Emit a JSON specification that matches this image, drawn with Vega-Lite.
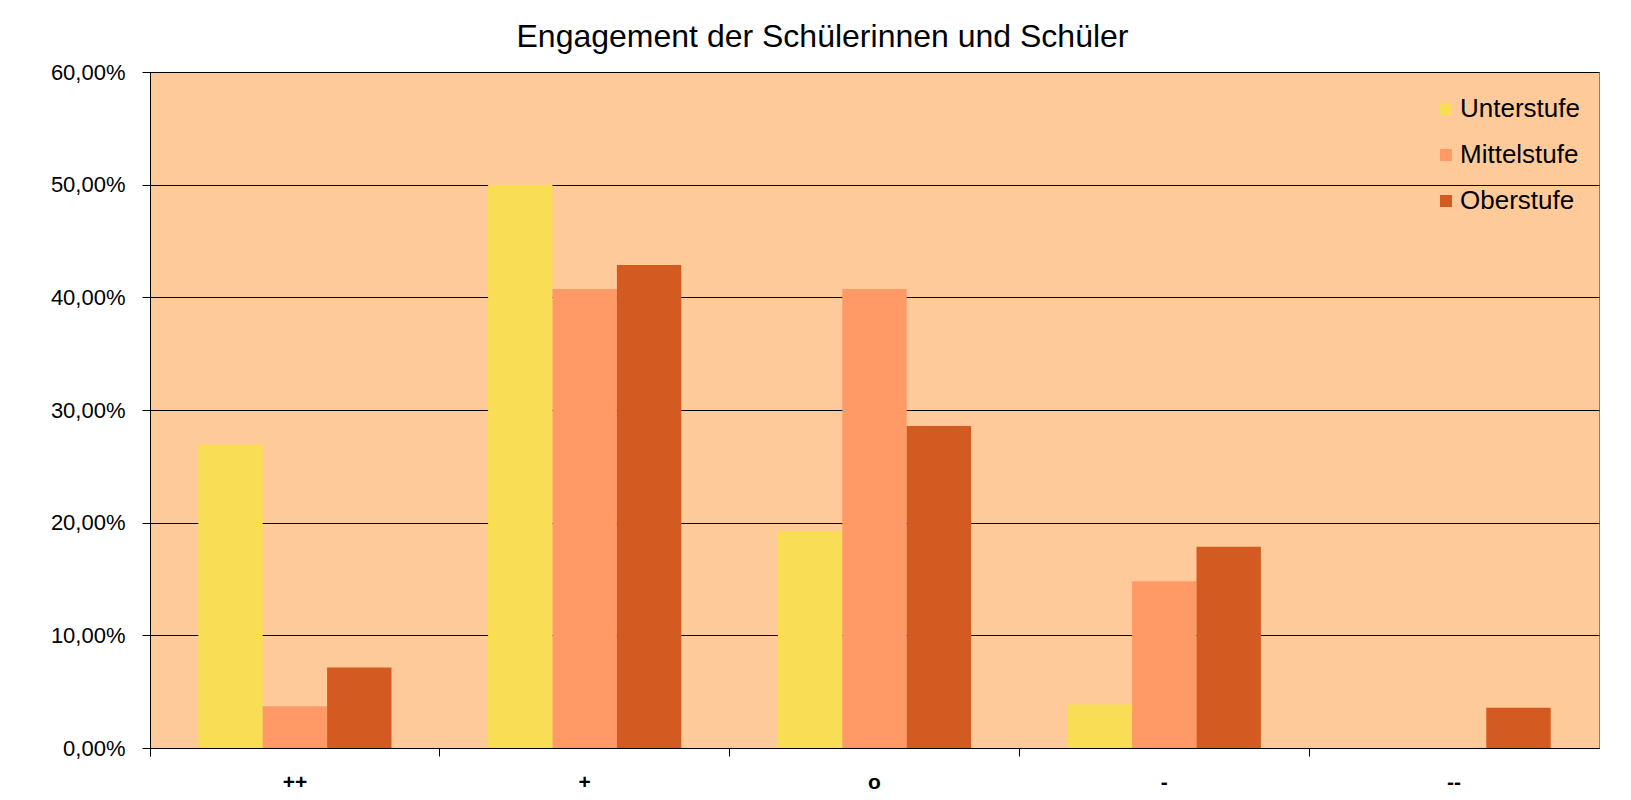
{
  "$schema": "https://vega.github.io/schema/vega-lite/v6.json",
  "autosize": {"type": "none"},
  "padding": {"left": 150, "top": 72, "right": 32, "bottom": 52},
  "width": 1449,
  "height": 676,
  "background": "white",
  "title": {
    "text": "Engagement der Schülerinnen und Schüler",
    "fontSize": 32,
    "fontWeight": "normal",
    "font": "Liberation Sans",
    "color": "black",
    "anchor": "middle",
    "dx": -52,
    "offset": 7
  },
  "data": {
    "values": [
      {"Kategorie": "++", "Stufe": "Unterstufe", "Anteil": 0.2692},
      {"Kategorie": "++", "Stufe": "Mittelstufe", "Anteil": 0.0370},
      {"Kategorie": "++", "Stufe": "Oberstufe", "Anteil": 0.0714},
      {"Kategorie": "+", "Stufe": "Unterstufe", "Anteil": 0.5000},
      {"Kategorie": "+", "Stufe": "Mittelstufe", "Anteil": 0.4074},
      {"Kategorie": "+", "Stufe": "Oberstufe", "Anteil": 0.4286},
      {"Kategorie": "o", "Stufe": "Unterstufe", "Anteil": 0.1923},
      {"Kategorie": "o", "Stufe": "Mittelstufe", "Anteil": 0.4074},
      {"Kategorie": "o", "Stufe": "Oberstufe", "Anteil": 0.2857},
      {"Kategorie": "-", "Stufe": "Unterstufe", "Anteil": 0.0385},
      {"Kategorie": "-", "Stufe": "Mittelstufe", "Anteil": 0.1481},
      {"Kategorie": "-", "Stufe": "Oberstufe", "Anteil": 0.1786},
      {"Kategorie": "--", "Stufe": "Unterstufe", "Anteil": 0.0},
      {"Kategorie": "--", "Stufe": "Mittelstufe", "Anteil": 0.0},
      {"Kategorie": "--", "Stufe": "Oberstufe", "Anteil": 0.0357}
    ]
  },
  "mark": {"type": "bar"},
  "encoding": {
    "x": {
      "field": "Kategorie",
      "type": "nominal",
      "sort": ["++", "+", "o", "-", "--"],
      "scale": {"paddingInner": 0, "paddingOuter": 0},
      "axis": {
        "title": null,
        "labelAngle": 0,
        "labelFontSize": 21,
        "labelFontWeight": "bold",
        "labelFont": "Liberation Sans",
        "labelColor": "black",
        "labelPadding": 15,
        "bandPosition": 0,
        "tickExtra": true,
        "tickSize": 8,
        "tickColor": "black",
        "domainColor": "black",
        "grid": false
      }
    },
    "xOffset": {
      "field": "Stufe",
      "type": "nominal",
      "sort": ["Unterstufe", "Mittelstufe", "Oberstufe"],
      "scale": {"paddingInner": 0, "paddingOuter": 0.75}
    },
    "y": {
      "field": "Anteil",
      "type": "quantitative",
      "scale": {"domain": [0, 0.6], "nice": false},
      "axis": {
        "title": null,
        "values": [0, 0.1, 0.2, 0.3, 0.4, 0.5, 0.6],
        "labelExpr": "replace(format(datum.value, '.2%'), '.', ',')",
        "labelFontSize": 22,
        "labelFont": "Liberation Sans",
        "labelColor": "black",
        "labelPadding": 17,
        "tickSize": 8,
        "tickColor": "black",
        "domainColor": "black",
        "gridColor": "black",
        "gridWidth": 1,
        "gridOpacity": 1
      }
    },
    "color": {
      "field": "Stufe",
      "type": "nominal",
      "sort": ["Unterstufe", "Mittelstufe", "Oberstufe"],
      "scale": {
        "domain": ["Unterstufe", "Mittelstufe", "Oberstufe"],
        "range": ["#F8DD55", "#FF9966", "#D35A20"]
      },
      "legend": {
        "title": null,
        "orient": "none",
        "legendX": 1283,
        "legendY": 24,
        "symbolType": "square",
        "symbolSize": 144,
        "symbolStrokeWidth": 0,
        "symbolOpacity": 1,
        "labelFontSize": 26,
        "labelFont": "Liberation Sans",
        "labelColor": "black",
        "labelOffset": 1,
        "rowPadding": 20
      }
    }
  },
  "config": {
    "view": {"fill": "#FFCA99", "stroke": "#808080", "strokeWidth": 1},
    "bar": {"stroke": null}
  }
}
